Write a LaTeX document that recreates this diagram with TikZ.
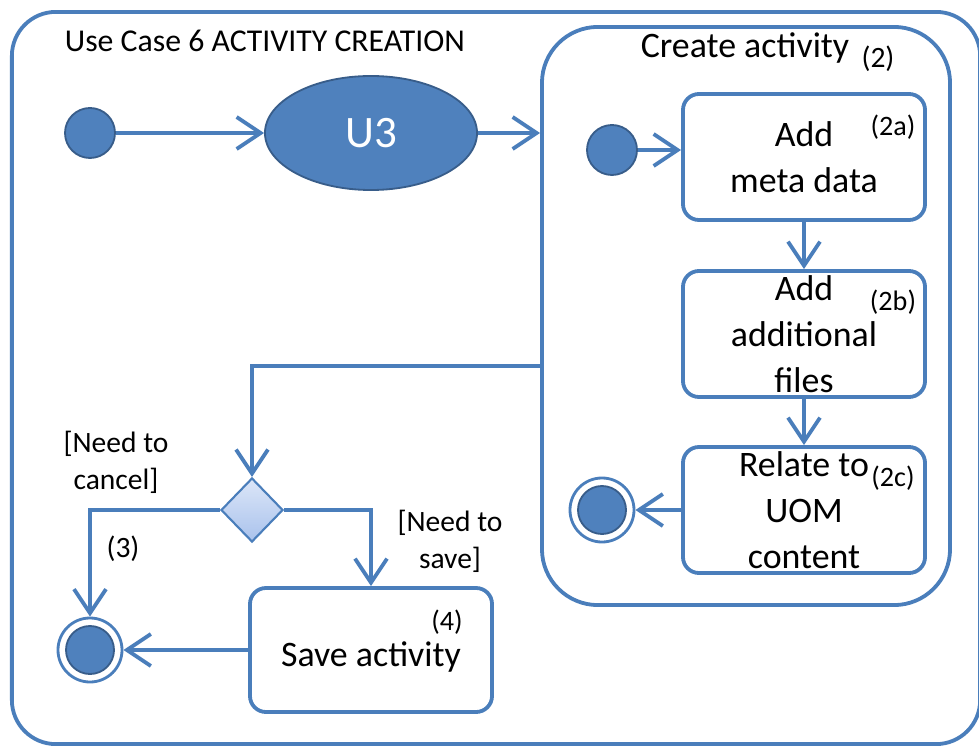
\documentclass[tikz,border=0pt]{standalone}
\usepackage{fontspec}
\setmainfont{Carlito}
\usetikzlibrary{positioning,shapes.geometric,arrows.meta,calc}
\definecolor{umlblue}{HTML}{4A7EBB}
\definecolor{umlfill}{HTML}{4F81BD}
\definecolor{umldark}{HTML}{385D8A}
\definecolor{diamtop}{HTML}{DCE6F8}
\definecolor{diambot}{HTML}{A9C2EC}

\begin{document}
\begin{tikzpicture}[
    x=0.025cm, y=-0.025cm,
    line width=2.7pt,
    font=\fontsize{25.5}{32.6}\selectfont,
    frame/.style={
        draw=umlblue,
        rounded corners=1.1cm,
        minimum width=24.2cm,
        minimum height=18.3cm
    },
    region/.style={
        draw=umlblue,
        rounded corners=1.4cm,
        minimum width=10.2cm,
        minimum height=14.45cm
    },
    act/.style={
        draw=umlblue,
        rounded corners=0.4cm,
        fill=white,
        minimum width=6.05cm,
        minimum height=3.15cm,
        align=center,
        inner sep=0pt
    },
    start/.style={
        circle,
        draw=umldark,
        line width=1.3pt,
        fill=umlfill,
        minimum size=1.25cm,
        inner sep=0pt
    },
    stop/.style={
        circle,
        draw=umlblue,
        line width=2pt,
        fill=white,
        minimum size=1.6cm,
        inner sep=0pt,
        path picture={
            \fill[umlfill, draw=umldark, line width=1.3pt]
                (path picture bounding box.center) circle (0.6cm);
        }
    },
    tag/.style={
        font=\fontsize{20}{24}\selectfont,
        inner sep=0pt
    },
    guard/.style={
        font=\fontsize{21}{26.5}\selectfont,
        align=center,
        inner sep=0pt
    },
    arr/.style={
        -{Straight Barb[length=6mm,width=8mm,line width=2.7pt]},
        draw=umlblue
    }
]
\useasboundingbox (0,0) rectangle (979,747);

% frames
\node[frame] (outer) at (496,378) {};
\node[anchor=west, inner sep=0pt, font=\fontsize{22.6}{26}\selectfont] (title) at (63,41)
    {Use Case 6 ACTIVITY CREATION};

\node[region] (create) at (746,316) {};
\node (createlbl) at (745,48) {Create activity};
\node[tag, font=\fontsize{21}{24}\selectfont] (createno) at (878,59) {(2)};

% top row
\node[start] (init) at (90,133) {};
\node[ellipse, draw=umldark, line width=1.3pt, fill=umlfill,
      minimum width=5.3cm, minimum height=2.85cm,
      text=white, font=\fontsize{32}{36}\selectfont] (uthree) at (371,133) {U3};

% inner activities
\node[start] (subinit) at (612,150) {};
\node[act] (meta) at (804,157) {Add\\meta data};
\node[act] (files) at (804,334) {Add\\additional\\files};
\node[act] (relate) at (804,510) {Relate to\\UOM\\content};
\node[stop] (subend) at (602,510) {};

\node[tag] (tagmeta) at (893,127) {(2a)};
\node[tag] (tagfiles) at (893,302) {(2b)};
\node[tag] (tagrelate) at (893,478) {(2c)};

% decision
\node[diamond, draw=umlblue, line width=1.5pt,
      top color=diamtop, bottom color=diambot,
      minimum width=1.55cm, minimum height=1.6cm,
      inner sep=0pt] (choice) at (252,510) {};
\node[act, minimum height=3.1cm] (save) at (371,650)
    {\raisebox{-0.18cm}[\height][\depth]{Save activity}};
\node[tag] (tagsave) at (447,622) {(4)};
\node[stop] (endall) at (90,650) {};

\node[guard] (cancel) at (116,462) {[Need to\\cancel]};
\node[guard] (num3) at (123,549) {(3)};
\node[guard] (savelbl) at (450,541) {[Need to\\save]};

% connectors
\coordinate (split) at (252,366);

\draw[arr] (init) -- (uthree);
\draw[arr] (uthree) -- (uthree -| create.west);
\draw[arr] (subinit) -- (subinit -| meta.west);
\draw[arr] (meta) -- (files);
\draw[arr] (files) -- (relate);
\draw[arr] (relate) -- (subend);
\draw[arr] (split -| create.west) -- (split) -- (choice.north);
\draw[arr] (choice.west) -| (endall.north);
\draw[arr] (choice.east) -| (save.north);
\draw[arr] (save.west |- endall) -- (endall);

\end{tikzpicture}
\end{document}
